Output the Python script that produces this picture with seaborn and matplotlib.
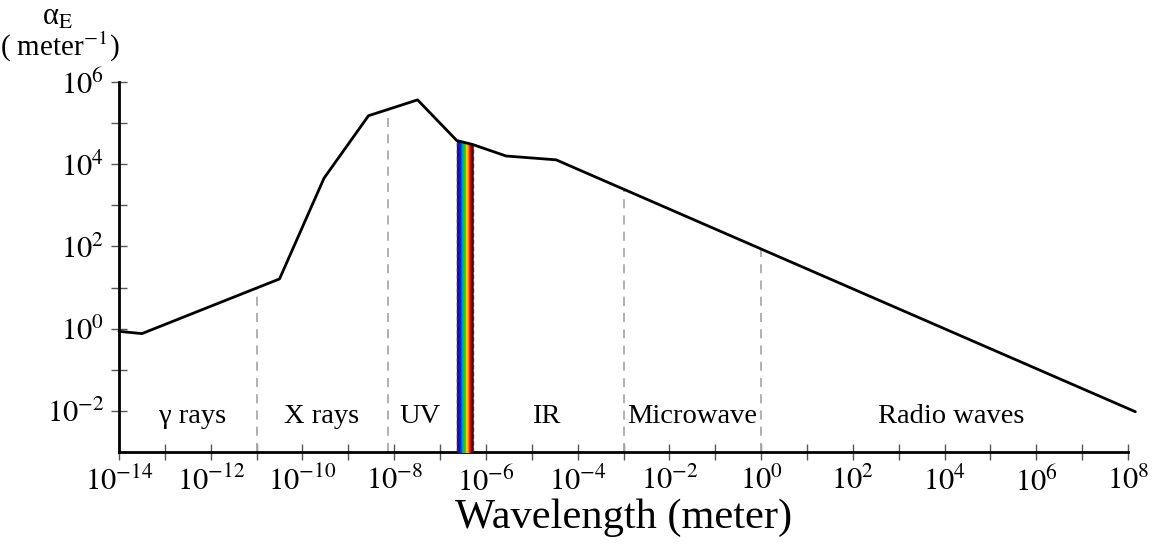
import numpy as np
import pandas as pd
import matplotlib
matplotlib.use("Agg")
import matplotlib.pyplot as plt
import seaborn as sns
from matplotlib.colors import LinearSegmentedColormap
from matplotlib.ticker import FixedLocator, FuncFormatter, NullFormatter

# ---------------- data ----------------
wavelength_log = [-14.0, -13.5, -10.5, -9.53, -8.56, -7.49, -6.635, -6.29, -5.56, -4.47, 8.16]
alpha_log = [-0.065, -0.12, 1.21, 3.66, 5.18, 5.565, 4.576, 4.48, 4.2, 4.107, -2.02]

boundary_log = [-11.0, -8.14, -3.0, 0.0]

region_names = ["γ rays", "X rays", "UV", "IR", "Microwave", "Radio waves"]
region_x_log = [-12.39, -9.59, -7.44, -4.69, -1.50, 4.15]
region_y_log = -2.14

visible_log = [-6.635, -6.29]
spectrum_colors = ["#1c0848", "#2a0880", "#2010d0", "#0040ff", "#00a0e0", "#00c060",
                   "#40d000", "#e8e800", "#ffa000", "#ff2000", "#c80000", "#580010"]

x_major_exp = list(range(-14, 9, 2))
y_major_exp = [-2, 0, 2, 4, 6]

df = pd.DataFrame({"wavelength": np.power(10.0, wavelength_log),
                   "alpha": np.power(10.0, alpha_log)})

# ---------------- style ----------------
sns.set_theme(style="ticks")
plt.rcParams["font.family"] = ["Liberation Serif", "DejaVu Serif"]
plt.rcParams["mathtext.fontset"] = "stix"
plt.rcParams["text.color"] = "black"
plt.rcParams["axes.labelcolor"] = "black"

fig = plt.figure(figsize=(11.53, 5.44), dpi=100)
ax = fig.add_axes([119 / 1153, 1 - 452 / 544, (1128 - 119) / 1153, (452 - 82) / 544])

ax.set_xscale("log")
ax.set_yscale("log")
ax.set_xlim(1e-14, 1e8)
ax.set_ylim(1e-3, 1e6)

# curve
sns.lineplot(data=df, x="wavelength", y="alpha", ax=ax, color="black", linewidth=2,
             sort=False, estimator=None, clip_on=False, zorder=5)


def curve_at(xlog):
    return 10 ** np.interp(xlog, wavelength_log, alpha_log)


# boundary dashed lines
for b in boundary_log:
    ax.plot([10 ** b, 10 ** b], [1e-3, curve_at(b)], color="#aaaaaa", linestyle=(0, (5, 4)),
            linewidth=1.3, zorder=2)

# visible spectrum band
cmap = LinearSegmentedColormap.from_list("spec", spectrum_colors)
n_strips = 40
edges = np.linspace(visible_log[0], visible_log[1], n_strips + 1)
for i in range(n_strips):
    xs = np.linspace(edges[i], edges[i + 1], 3)
    c = cmap(i / (n_strips - 1))
    ax.fill_between(10 ** xs, 1e-3, curve_at(xs), facecolor=c, edgecolor=c,
                    linewidth=0.6, zorder=3)
for e in visible_log:
    ax.plot([10 ** e, 10 ** e], [1e-3, curve_at(e)], color="#333333", linestyle=(0, (3, 2)),
            linewidth=1.0, zorder=3.5)

# region labels
for name, xl in zip(region_names, region_x_log):
    ax.text(10 ** xl, 10 ** region_y_log, name, ha="center", va="center", fontsize=20.5,
            color="black")

# ticks
ax.xaxis.set_major_locator(FixedLocator([10.0 ** e for e in x_major_exp]))
ax.xaxis.set_minor_locator(FixedLocator([10.0 ** e for e in range(-13, 8, 2)]))
ax.yaxis.set_major_locator(FixedLocator([10.0 ** e for e in y_major_exp]))
ax.yaxis.set_minor_locator(FixedLocator([10.0 ** e for e in [-1, 1, 3, 5]]))
fmt = FuncFormatter(lambda v, p: r"$10^{%d}$" % int(round(np.log10(v))))
ax.xaxis.set_major_formatter(fmt)
ax.yaxis.set_major_formatter(fmt)
ax.xaxis.set_minor_formatter(NullFormatter())
ax.yaxis.set_minor_formatter(NullFormatter())
ax.tick_params(which="both", direction="inout", length=11, width=1.0, color="#555555",
               labelcolor="black", labelsize=22, pad=5)

sns.despine(ax=ax)
for s in ["left", "bottom"]:
    ax.spines[s].set_linewidth(2)
    ax.spines[s].set_color("black")

ax.set_xlabel("Wavelength (meter)", fontsize=30.5, labelpad=1)
ax.set_ylabel("")

fig.text(58 / 1153, 1 - 17 / 544, r"α$_{\mathrm{E}}$", ha="center", va="center", fontsize=22)
fig.text(60 / 1153, 1 - 47 / 544, r"( meter$^{-1}$)", ha="center", va="center", fontsize=21)

fig.savefig("out.png", dpi=100, facecolor="white")
